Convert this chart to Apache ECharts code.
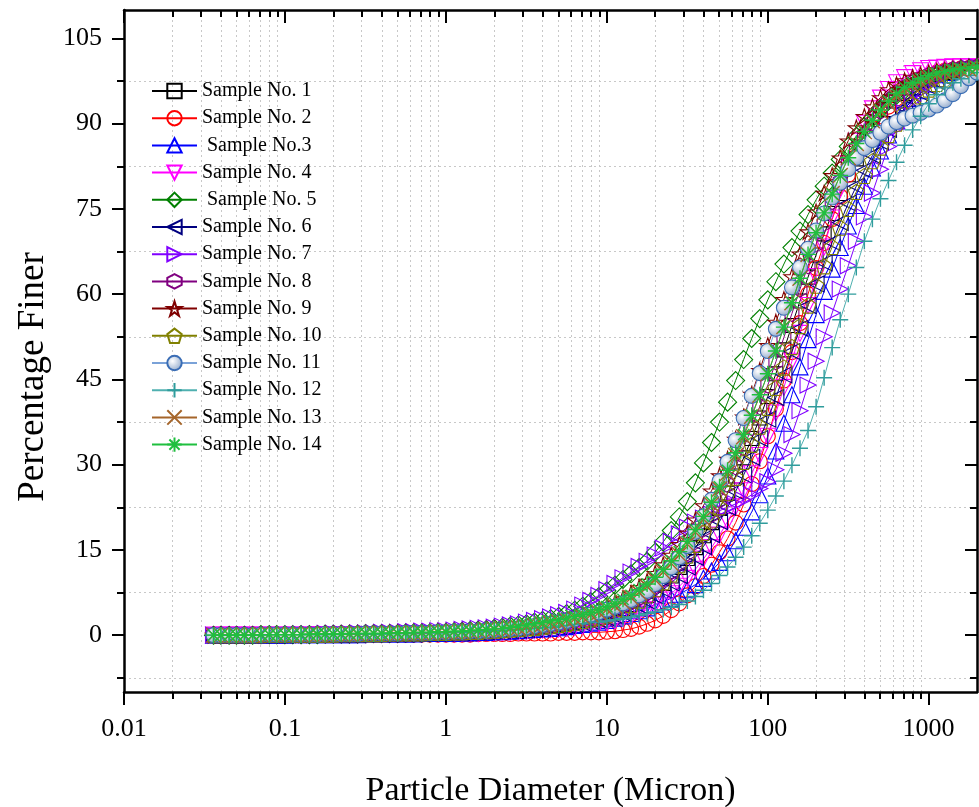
<!DOCTYPE html>
<html>
<head>
<meta charset="utf-8">
<script src="https://cdn.jsdelivr.net/npm/echarts@6/dist/echarts.min.js"></script>
<style>html,body{margin:0;padding:0;background:#fff;}#chart{width:979px;height:807px;}</style>
</head>
<body>
<div id="chart"></div>
<script>
const diameters = [0.036,0.040,0.045,0.050,0.056,0.063,0.071,0.080,0.089,0.100,
0.112,0.126,0.142,0.159,0.178,0.200,0.224,0.252,0.283,0.317,
0.356,0.399,0.448,0.502,0.564,0.632,0.710,0.796,0.893,1.002,
1.125,1.262,1.416,1.589,1.783,2.000,2.244,2.518,2.825,3.170,
3.557,3.991,4.477,5.024,5.637,6.325,7.096,7.962,8.934,10.024,
11.247,12.619,14.159,15.887,17.825,20.000,22.440,25.179,28.251,31.698,
35.566,39.905,44.774,50.238,56.368,63.246,70.963,79.621,89.337,100.237,
112.468,126.191,141.589,158.866,178.250,200.000,224.404,251.785,282.508,316.979,
355.656,399.052,447.744,502.377,563.677,632.456,709.627,796.214,893.367,1002.374,
1124.683,1261.915,1415.892,1588.656,1782.502,2000.000];

const sample1 = [0,0,0,0,0,0,0,0.1,0.1,0.1,0.1,0.1,0.1,0.1,0.1,0.1,0.2,0.2,0.2,0.2,0.2,0.2,0.3,0.3,0.3,0.3,0.3,0.4,0.4,
0.4,0.5,0.5,0.6,0.6,0.7,0.8,0.9,1.0,1.1,1.2,1.3,1.5,1.6,1.8,2.0,2.2,2.5,2.8,3.2,3.6,4.1,4.7,5.4,6.2,7.0,8.0,9.1,10.4,11.9,13.5,15.4,17.5,19.8,22.3,25.0,28.0,31.2,34.6,38.2,42.0,46.0,50.2,54.5,58.8,63.0,66.9,70.6,74.2,77.7,81.0,83.8,86.4,88.7,90.7,92.5,94.0,95.3,96.3,97.2,98.0,98.6,99.0,99.3,99.5,99.7,100];
const sample2 = [0,0,0,0,0,0,0,0,0,0,0,0,0,0,0,0,0,0,0,0.1,0.1,0.1,0.1,0.1,0.1,0.1,0.1,0.1,0.1,
0.1,0.1,0.1,0.1,0.2,0.2,0.2,0.2,0.2,0.3,0.3,0.3,0.3,0.3,0.4,0.4,0.4,0.5,0.5,0.5,0.6,0.7,0.9,1.1,1.5,2.0,2.6,3.4,4.4,5.6,7.0,8.6,10.4,12.4,14.6,17.0,19.8,23.0,26.6,30.6,35.0,39.8,44.8,49.8,54.9,60.0,64.6,69.0,73.2,77.2,81.0,84.2,87.0,89.3,91.3,93.0,94.4,95.6,96.7,97.7,98.5,99.0,99.3,99.5,99.7,99.8,100];
const sample3 = [0,0,0,0,0,0,0,0,0,0,0.1,0.1,0.1,0.1,0.1,0.1,0.1,0.1,0.1,0.2,0.2,0.2,0.2,0.2,0.2,0.2,0.3,0.3,0.3,
0.3,0.3,0.4,0.4,0.5,0.5,0.6,0.6,0.7,0.8,0.9,1.0,1.1,1.2,1.3,1.5,1.7,1.9,2.1,2.3,2.6,3.0,3.4,3.8,4.3,4.8,5.4,5.9,6.5,7.2,8.0,8.9,10.0,11.3,12.8,14.5,16.6,19.0,21.7,24.7,28.0,32.4,37.3,42.3,47.2,52.0,56.4,60.5,64.4,68.2,72.0,75.6,79.0,82.2,85.2,88.0,90.5,92.6,94.4,95.8,97.0,97.9,98.6,99.0,99.3,99.6,99.8];
const sample4 = [0,0,0,0,0,0,0,0,0,0,0,0,0,0.1,0.1,0.1,0.1,0.1,0.1,0.1,0.1,0.1,0.1,0.1,0.2,0.2,0.2,0.2,0.2,
0.2,0.2,0.3,0.3,0.3,0.4,0.4,0.5,0.5,0.6,0.7,0.8,0.9,1.0,1.1,1.2,1.4,1.6,1.8,2.0,2.2,2.5,2.9,3.3,3.9,4.5,5.3,6.2,7.3,8.6,10.0,11.6,13.4,15.4,17.6,20.0,22.6,25.4,28.4,31.6,35.0,39.1,43.6,48.2,53.1,58.0,63.1,68.3,73.4,78.4,83.0,86.9,90.1,92.6,94.5,96.0,97.2,98.1,98.8,99.3,99.7,99.8,99.9,100,100,100,100];
const sample5 = [0,0,0,0,0,0,0.1,0.1,0.1,0.1,0.1,0.1,0.1,0.1,0.2,0.2,0.2,0.2,0.2,0.3,0.3,0.3,0.3,0.3,0.4,0.4,0.4,0.4,0.5,
0.5,0.6,0.7,0.8,0.9,1.0,1.2,1.4,1.6,1.8,2.0,2.3,2.6,2.9,3.3,3.8,4.4,5.1,5.9,6.8,7.8,8.8,9.8,10.8,11.9,13.0,14.6,16.4,18.4,20.8,23.5,26.8,30.3,33.9,37.5,41.0,44.8,48.5,52.2,55.7,59.0,62.2,65.3,68.2,71.1,74.0,76.6,79.0,81.3,83.7,86.0,87.8,89.5,91.0,92.6,94.0,95.0,95.9,96.7,97.4,98.0,98.5,98.9,99.2,99.5,99.7,99.9];
const sample6 = [0,0,0,0,0,0,0,0,0,0,0.1,0.1,0.1,0.1,0.1,0.1,0.1,0.1,0.1,0.2,0.2,0.2,0.2,0.2,0.2,0.2,0.3,0.3,0.3,
0.3,0.4,0.4,0.5,0.5,0.6,0.7,0.7,0.8,0.9,1.0,1.1,1.2,1.4,1.5,1.7,1.9,2.1,2.4,2.7,3.0,3.4,3.9,4.5,5.2,6.0,6.9,8.0,9.2,10.5,12.0,13.7,15.6,17.7,20.0,22.5,25.3,28.2,31.3,34.6,38.0,41.8,45.8,49.9,54.0,58.0,61.8,65.5,69.1,72.6,76.0,79.0,81.8,84.4,86.8,89.0,91.0,92.7,94.1,95.4,96.5,97.4,98.1,98.7,99.1,99.5,99.7];
const sample7 = [0,0,0,0,0.1,0.1,0.1,0.1,0.1,0.1,0.2,0.2,0.2,0.2,0.3,0.3,0.3,0.3,0.4,0.4,0.4,0.5,0.5,0.5,0.6,0.6,0.7,0.7,0.8,
0.8,0.9,1.0,1.1,1.2,1.3,1.4,1.6,1.8,2.0,2.3,2.6,2.9,3.2,3.6,4.0,4.6,5.3,6.1,7.0,8.0,9.1,10.1,11.1,12.1,13.0,14.1,15.3,16.5,17.8,19.0,19.9,20.6,21.3,21.9,22.5,23.1,23.8,24.7,25.8,27.0,29.1,32.0,35.3,39.5,44.0,48.2,52.5,56.7,60.9,65.0,69.3,73.6,77.8,82.0,86.0,89.2,91.9,94.0,95.7,97.0,98.0,98.7,99.2,99.5,99.8,100];
const sample8 = [0,0,0,0,0,0,0.1,0.1,0.1,0.1,0.1,0.1,0.1,0.1,0.2,0.2,0.2,0.2,0.2,0.3,0.3,0.3,0.3,0.3,0.4,0.4,0.4,0.4,0.5,
0.5,0.5,0.6,0.7,0.7,0.8,0.9,1.0,1.1,1.2,1.4,1.5,1.7,1.9,2.1,2.3,2.6,2.9,3.2,3.6,4.0,4.5,5.1,5.8,6.6,7.5,8.6,9.8,11.2,12.8,14.5,16.5,18.7,21.2,23.8,26.5,29.6,33.0,36.5,40.2,44.0,48.1,52.4,56.6,60.9,65.0,68.8,72.5,76.3,79.8,83.0,85.6,88.0,90.2,92.2,94.0,95.3,96.4,97.2,97.9,98.5,98.9,99.2,99.5,99.7,99.8,100];
const sample9 = [0,0,0,0,0,0,0.1,0.1,0.1,0.1,0.1,0.1,0.2,0.2,0.2,0.2,0.2,0.3,0.3,0.3,0.3,0.3,0.4,0.4,0.4,0.5,0.5,0.5,0.6,
0.6,0.7,0.7,0.8,0.9,1.0,1.1,1.2,1.3,1.5,1.7,1.9,2.1,2.3,2.5,2.8,3.1,3.5,3.9,4.4,5.0,5.7,6.5,7.4,8.4,9.5,10.9,12.4,14.1,16.0,18.0,20.3,22.8,25.4,28.1,31.0,34.5,38.4,42.4,46.6,51.0,55.1,59.1,63.1,67.1,71.0,74.5,77.8,80.9,84.0,87.0,89.3,91.3,93.0,94.6,96.0,96.9,97.6,98.2,98.6,99.0,99.3,99.5,99.7,99.9,100,100];
const sample10 = [0,0,0,0,0,0,0,0.1,0.1,0.1,0.1,0.1,0.1,0.1,0.1,0.1,0.2,0.2,0.2,0.2,0.2,0.2,0.3,0.3,0.3,0.3,0.3,0.4,0.4,
0.4,0.5,0.5,0.6,0.6,0.7,0.8,0.9,1.0,1.1,1.2,1.3,1.5,1.6,1.8,2.0,2.2,2.5,2.8,3.1,3.5,4.0,4.6,5.3,6.1,7.0,8.1,9.3,10.7,12.3,14.0,15.9,18.0,20.2,22.5,25.0,27.7,30.5,33.5,36.7,40.0,43.5,47.1,50.7,54.4,58.0,61.5,64.9,68.3,71.7,75.0,78.0,80.8,83.4,85.8,88.0,90.0,91.8,93.4,94.8,96.0,97.0,97.8,98.4,98.9,99.3,99.6];
const sample11 = [0,0,0,0,0,0,0.1,0.1,0.1,0.1,0.1,0.1,0.1,0.1,0.2,0.2,0.2,0.2,0.2,0.3,0.3,0.3,0.3,0.3,0.4,0.4,0.4,0.4,0.5,
0.5,0.6,0.6,0.7,0.7,0.8,0.9,1.0,1.1,1.2,1.4,1.6,1.8,2.0,2.2,2.5,2.8,3.2,3.6,4.0,4.5,5.0,5.6,6.2,7.0,7.8,9.0,10.4,11.9,13.7,15.7,18.2,20.9,23.8,27.1,30.5,34.3,38.2,42.1,46.1,50.0,53.9,57.6,61.2,64.7,68.0,71.2,74.2,77.0,79.6,82.0,84.0,85.7,87.1,88.4,89.5,90.3,90.9,91.4,91.9,92.5,93.2,94.1,95.2,96.6,98.0,99.0];
const sample12 = [0,0,0,0,0,0,0,0.1,0.1,0.1,0.1,0.1,0.1,0.1,0.1,0.1,0.2,0.2,0.2,0.2,0.2,0.2,0.3,0.3,0.3,0.3,0.3,0.4,0.4,
0.4,0.5,0.5,0.6,0.6,0.7,0.8,0.8,0.9,1.0,1.1,1.2,1.3,1.4,1.6,1.7,1.9,2.0,2.2,2.3,2.5,2.7,2.9,3.2,3.5,3.8,4.1,4.5,4.9,5.4,6.0,6.8,7.9,9.1,10.5,12.0,13.7,15.5,17.5,19.7,22.0,24.5,27.1,29.9,32.9,36.0,40.2,45.3,50.6,55.5,60.0,64.7,69.3,73.2,76.8,80.0,83.2,86.2,88.9,91.3,93.5,95.1,96.3,97.2,97.9,98.5,99.0];
const sample13 = [0,0,0,0,0,0,0.1,0.1,0.1,0.1,0.1,0.1,0.1,0.1,0.2,0.2,0.2,0.2,0.2,0.3,0.3,0.3,0.3,0.3,0.4,0.4,0.4,0.4,0.5,
0.5,0.6,0.6,0.7,0.8,0.9,1.0,1.1,1.2,1.3,1.5,1.7,1.9,2.1,2.3,2.6,2.9,3.2,3.6,4.0,4.5,5.1,5.8,6.6,7.5,8.5,9.7,11.1,12.6,14.2,16.0,18.1,20.4,23.0,25.7,28.5,31.6,34.9,38.5,42.2,46.0,50.1,54.3,58.5,62.8,67.0,70.8,74.3,77.7,80.9,84.0,86.5,88.6,90.5,92.1,93.5,94.7,95.7,96.6,97.3,98.0,98.5,98.9,99.2,99.4,99.6,99.8];
const sample14 = [0,0,0,0,0,0,0.1,0.1,0.1,0.1,0.1,0.1,0.2,0.2,0.2,0.2,0.2,0.3,0.3,0.3,0.3,0.3,0.4,0.4,0.4,0.5,0.5,0.5,0.6,
0.6,0.7,0.7,0.8,0.9,1.0,1.1,1.2,1.4,1.6,1.8,2.0,2.2,2.5,2.7,3.0,3.3,3.6,4.0,4.5,5.0,5.6,6.3,7.0,8.0,9.0,10.2,11.6,13.1,14.7,16.5,18.6,20.9,23.4,26.1,29.0,32.1,35.3,38.7,42.3,46.0,50.0,54.2,58.5,62.8,67.0,70.8,74.3,77.6,80.9,84.0,86.5,88.6,90.6,92.4,94.0,95.3,96.4,97.2,97.9,98.5,98.9,99.2,99.5,99.7,99.8,100];

const sampleNames = ['Sample No. 1','Sample No. 2',' Sample No.3','Sample No. 4',' Sample No. 5','Sample No. 6','Sample No. 7','Sample No. 8','Sample No. 9','Sample No. 10','Sample No. 11','Sample No. 12','Sample No. 13','Sample No. 14'];
const xMajorTicks = [0.01,0.1,1,10,100,1000];
const xMinorTicks = [0.02,0.03,0.04,0.05,0.06,0.07,0.08,0.09,0.2,0.3,0.4,0.5,0.6,0.7,0.8,0.9,2,3,4,5,6,7,8,9,20,30,40,50,60,70,80,90,200,300,400,500,600,700,800,900];
const yMajorTicks = [0,15,30,45,60,75,90,105];
const yMinorTicks = [-7.5,7.5,22.5,37.5,52.5,67.5,82.5,97.5];

const allSamples = [sample1,sample2,sample3,sample4,sample5,sample6,sample7,sample8,sample9,sample10,sample11,sample12,sample13,sample14];
const colors = ['#000000','#ff0000','#0000ff','#ff00ff','#008000','#000080','#8000ff','#800080','#800000','#808000','#3a6db5','#2f9c9c','#a5652a','#1fbf3f'];
const lineColors = ['#000000','#ff0000','#0000ff','#ff00ff','#008000','#000080','#8000ff','#800080','#800000','#808000','#7aa2d8','#4fb0b0','#a5652a','#1fbf3f'];
const symbols = ['rect','circle','triangle','triangle','diamond','triangle','triangle',
  'path://M5 0 L9.33 2.5 L9.33 7.5 L5 10 L0.67 7.5 L0.67 2.5 Z',
  'path://M5 0 L6.12 3.46 L9.76 3.46 L6.81 5.59 L7.94 9.05 L5 6.9 L2.06 9.05 L3.19 5.59 L0.24 3.46 L3.88 3.46 Z',
  'path://M5 0 L9.76 3.45 L7.94 9.05 L2.06 9.05 L0.24 3.45 Z',
  'circle',
  'path://M5 0 L5 10 M0 5 L10 5',
  'path://M0 0 L10 10 M10 0 L0 10',
  'path://M5 0 L5 10 M0 5 L10 5 M1.46 1.46 L8.54 8.54 M8.54 1.46 L1.46 8.54'];
const rotations = [0,0,0,180,0,90,-90,0,0,0,0,0,0,0];
const sizes = [14,15,16,16,18,16,16,16,16,16,15,16,15,16];

const font = "'Liberation Serif', 'Times New Roman', serif";
const chart = echarts.init(document.getElementById('chart'), null, {renderer: 'canvas'});

const series = allSamples.map((vals, k) => {
  const fill = k === 10 ? {type:'radial', x:0.38, y:0.38, r:0.7, colorStops:[{offset:0,color:'#ffffff'},{offset:0.6,color:'#b8c8de'},{offset:1,color:'#8aa3c6'}]} : 'rgba(0,0,0,0)';
  return {
    name: sampleNames[k],
    type: 'line',
    xAxisIndex: 0, yAxisIndex: 0,
    data: diameters.map((d, i) => [d, vals[i]]),
    symbol: symbols[k],
    symbolSize: sizes[k],
    symbolRotate: rotations[k],
    symbolKeepAspect: true,
    showAllSymbol: true,
    lineStyle: {color: lineColors[k], width: 1},
    itemStyle: {color: fill, borderColor: colors[k], borderWidth: (k >= 11 ? 1.4 : 1.1)},
    emphasis: {disabled: true},
    z: 2 + k
  };
});

const fmt = v => String(+Number(v).toPrecision(6));
const axisLineStyle = {color:'#000', width:2.5};
const tickStyle = {color:'#000', width:2};
const gridDot = {color:'#c8c8c8', width:1, type:[2,3]};

const xBase = {type:'log', logBase:10, min:0.01, max:2000, gridIndex:0};
const yBase = {type:'value', min:-10, max:110, gridIndex:0};

const option = {
  animation: false,
  backgroundColor: '#ffffff',
  grid: {left:124, right:2, top:10, bottom:115, containLabel:false, outerBoundsMode:'none'},
  legend: {
    orient:'vertical', left:146, top:76,
    itemWidth:45, itemHeight:18, itemGap:7.2,
    textStyle:{fontFamily:font, fontSize:20, color:'#000', lineHeight:20},
    data: sampleNames
  },
  xAxis: [
    Object.assign({}, xBase, {position:'bottom',
      name:'Particle Diameter (Micron)', nameLocation:'middle', nameGap:82,
      nameTextStyle:{fontFamily:font, fontSize:34, color:'#000'},
      axisLine:{show:true, onZero:false, lineStyle:axisLineStyle},
      axisTick:{show:true, inside:false, length:13, lineStyle:tickStyle, customValues:xMajorTicks},
      axisLabel:{show:true, customValues:xMajorTicks, margin:24, fontFamily:font, fontSize:26, color:'#000', formatter:fmt},
      splitLine:{show:false}, minorTick:{show:false}}),
    Object.assign({}, xBase, {position:'bottom',
      axisLine:{show:false, onZero:false},
      axisTick:{show:true, inside:false, length:7, lineStyle:tickStyle, customValues:xMinorTicks},
      axisLabel:{show:false},
      splitLine:{show:true, lineStyle:gridDot}}),
    Object.assign({}, xBase, {position:'top',
      axisLine:{show:true, onZero:false, lineStyle:axisLineStyle},
      axisTick:{show:true, inside:true, length:13, lineStyle:tickStyle, customValues:xMajorTicks},
      axisLabel:{show:false}, splitLine:{show:false}}),
    Object.assign({}, xBase, {position:'top',
      axisLine:{show:false, onZero:false},
      axisTick:{show:true, inside:true, length:7, lineStyle:tickStyle, customValues:xMinorTicks},
      axisLabel:{show:false}, splitLine:{show:false}})
  ],
  yAxis: [
    Object.assign({}, yBase, {position:'left',
      name:'Percentage Finer', nameLocation:'middle', nameGap:70, nameRotate:90,
      nameTextStyle:{fontFamily:font, fontSize:37, color:'#000', padding:[0,52,0,0]},
      axisLine:{show:true, onZero:false, lineStyle:axisLineStyle},
      axisTick:{show:true, inside:false, length:12, lineStyle:tickStyle, customValues:yMajorTicks},
      axisLabel:{show:true, customValues:yMajorTicks, margin:22, fontFamily:font, fontSize:26, color:'#000'},
      splitLine:{show:false}}),
    Object.assign({}, yBase, {position:'left',
      axisLine:{show:false, onZero:false},
      axisTick:{show:true, inside:false, length:7, lineStyle:tickStyle, customValues:yMinorTicks},
      axisLabel:{show:false},
      splitLine:{show:true, lineStyle:gridDot}}),
    Object.assign({}, yBase, {position:'right',
      axisLine:{show:true, onZero:false, lineStyle:axisLineStyle},
      axisTick:{show:true, inside:true, length:12, lineStyle:tickStyle, customValues:yMajorTicks},
      axisLabel:{show:false}, splitLine:{show:false}}),
    Object.assign({}, yBase, {position:'right',
      axisLine:{show:false, onZero:false},
      axisTick:{show:true, inside:true, length:7, lineStyle:tickStyle, customValues:yMinorTicks},
      axisLabel:{show:false}, splitLine:{show:false}})
  ],
  series: series
};
chart.setOption(option);
</script>
</body>
</html>
